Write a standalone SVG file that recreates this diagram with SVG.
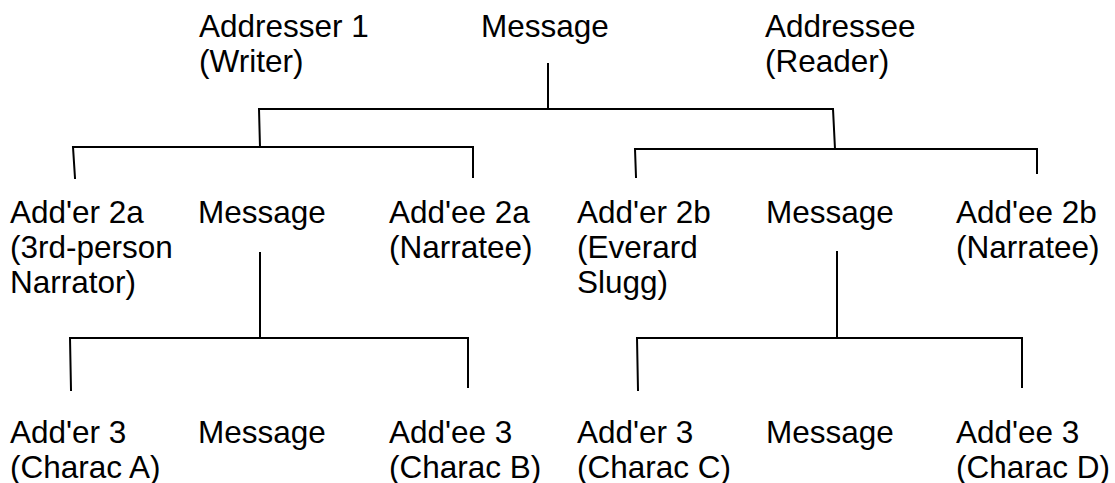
<svg xmlns="http://www.w3.org/2000/svg" width="1115" height="483" viewBox="0 0 1115 483">
<style>
text{font-family:"Liberation Sans",Arial,sans-serif;font-size:31.5px;fill:#000}
.c path{fill:none;stroke:#000;stroke-width:2;stroke-linecap:square;stroke-linejoin:miter}
</style>
<rect width="1115" height="483" fill="#fff"/>
<g class="c" id="connectors">
<path d="M548 64V109M260 147L259 109H833L835 149"/>
<path d="M75 178L73 147H473V177"/>
<path d="M636 177L635 149H1037V173"/>
<path d="M260 253V338M71 390L70 338H468V387"/>
<path d="M837 252V338M638 390L637 338H1022V387"/>
</g>
<g id="n-addresser1"><text x="199" y="37">Addresser 1</text><text x="199" y="72">(Writer)</text></g>
<g id="n-message1"><text x="481" y="37">Message</text></g>
<g id="n-addressee"><text x="765" y="37">Addressee</text><text x="765" y="72">(Reader)</text></g>
<g id="n-adder2a"><text x="10" y="223">Add'er 2a</text><text x="10" y="258">(3rd-person</text><text x="10" y="293">Narrator)</text></g>
<g id="n-message2a"><text x="198" y="223">Message</text></g>
<g id="n-addee2a"><text x="389" y="223">Add'ee 2a</text><text x="389" y="258">(Narratee)</text></g>
<g id="n-adder2b"><text x="577" y="223">Add'er 2b</text><text x="577" y="258">(Everard</text><text x="577" y="293">Slugg)</text></g>
<g id="n-message2b"><text x="766" y="223">Message</text></g>
<g id="n-addee2b"><text x="956" y="223">Add'ee 2b</text><text x="956" y="258">(Narratee)</text></g>
<g id="n-adder3a"><text x="10" y="443">Add'er 3</text><text x="10" y="478">(Charac A)</text></g>
<g id="n-message3a"><text x="198" y="443">Message</text></g>
<g id="n-addee3b"><text x="389" y="443">Add'ee 3</text><text x="389" y="478">(Charac B)</text></g>
<g id="n-adder3c"><text x="577" y="443">Add'er 3</text><text x="577" y="478">(Charac C)</text></g>
<g id="n-message3c"><text x="766" y="443">Message</text></g>
<g id="n-addee3d"><text x="956" y="443">Add'ee 3</text><text x="956" y="478">(Charac D)</text></g>
</svg>
